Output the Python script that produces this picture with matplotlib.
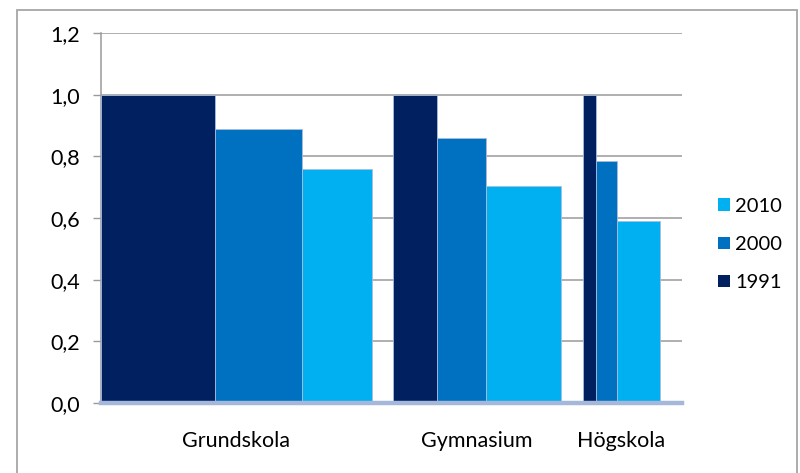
import matplotlib
matplotlib.use("Agg")
import matplotlib.pyplot as plt
from matplotlib.patches import Rectangle, Patch

plt.rcParams['font.family'] = ['Lato', 'DejaVu Sans']

categories = ["Grundskola", "Gymnasium", "Högskola"]
years = ["1991", "2000", "2010"]
# relative values (1991 = 1.0)
values = {
    "1991": [1.0, 1.0, 1.0],
    "2000": [0.889, 0.859, 0.785],
    "2010": [0.760, 0.705, 0.590],
}
# bar widths (relative size of each group per year)
widths = {
    "1991": [115, 44, 14],
    "2000": [87, 49, 21],
    "2010": [70, 75, 43],
}
colors = {"1991": "#002060", "2000": "#0070C0", "2010": "#00B0F0"}
yticks = [0.0, 0.2, 0.4, 0.6, 0.8, 1.0, 1.2]
gap = 22

W, H = 800, 473
fig = plt.figure(figsize=(W / 100, H / 100), dpi=100)
ax = fig.add_axes([101 / W, 1 - 403 / H, (682 - 101) / W, (403 - 33) / H])

x = 0.0
centers = []
for i, cat in enumerate(categories):
    start = x
    for y in years:
        w = widths[y][i]
        ax.bar(x, values[y][i], width=w, align='edge', color=colors[y],
               edgecolor='#A9BCDD', linewidth=0.6, zorder=3)
        x += w
    centers.append((start + x) / 2)
    x += gap

ax.set_xlim(0, x)
ax.set_ylim(0, 1.2)
ax.set_yticks(yticks)
ax.set_yticklabels([f"{t:.1f}".replace('.', ',') for t in yticks], fontsize=15.5, color='black')
ax.set_xticks(centers)
ax.set_xticklabels(categories, fontsize=15.5, color='black')
ax.tick_params(axis='x', length=0, pad=20)
ax.tick_params(axis='y', length=6, width=1, color='#9a9a9a', pad=9)
ax.grid(axis='y', color='#9a9a9a', linewidth=1.1, zorder=0)
for s in ['top', 'right', 'bottom']:
    ax.spines[s].set_visible(False)
ax.spines['left'].set_color('#9a9a9a')
ax.spines['left'].set_linewidth(1.1)
ax.axhline(0, color='#A5B8D9', linewidth=3.2, zorder=4, clip_on=False)
ax.set_facecolor('none')

handles = [Patch(facecolor=colors[y], edgecolor='none', label=y) for y in reversed(years)]
leg = fig.legend(handles=handles, loc='center left',
                 bbox_to_anchor=(708 / W, 1 - 244.5 / H), frameon=False,
                 fontsize=14.5, handlelength=0.6, handleheight=0.6,
                 handletextpad=0.25, labelspacing=1.05, borderpad=0)

fig.patches.append(Rectangle((16.7 / W, -0.1), (797 - 16.7) / W, 1.1 - 10 / H,
                             transform=fig.transFigure, fill=False,
                             edgecolor='#A6A6A6', linewidth=1.3))

fig.savefig("out.png", dpi=100)
